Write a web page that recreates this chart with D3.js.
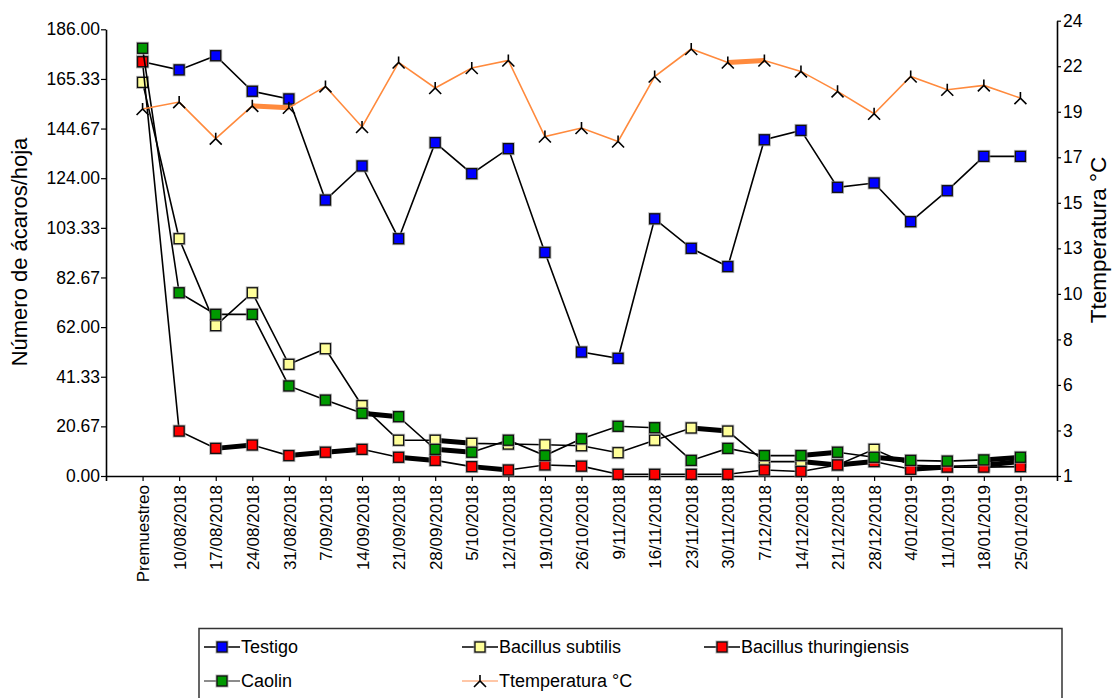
<!DOCTYPE html>
<html>
<head>
<meta charset="utf-8">
<script src="https://cdn.jsdelivr.net/npm/d3@7/dist/d3.min.js"></script>
<style>
  html, body { margin: 0; padding: 0; background: #fff; }
  svg { display: block; font-family: "Liberation Sans", Arial, sans-serif; }
  .narrow { font-family: "Liberation Sans Narrow", "Arial Narrow", "Liberation Sans", sans-serif; }
</style>
</head>
<body>
<svg id="chart" width="1114" height="698"></svg>
<script>
// ---- DATA ----
const categories = ["Premuestreo","10/08/2018","17/08/2018","24/08/2018","31/08/2018","7/09/2018","14/09/2018","21/09/2018","28/09/2018","5/10/2018","12/10/2018","19/10/2018","26/10/2018","9/11/2018","16/11/2018","23/11/2018","30/11/2018","7/12/2018","14/12/2018","21/12/2018","28/12/2018","4/01/2019","11/01/2019","18/01/2019","25/01/2019"];

const testigo       = [172.5,169.1,175.0,160.2,157.0,114.9,129.1,98.8,138.8,125.9,136.3,93.1,51.6,49.0,107.1,94.8,87.2,140.0,143.9,120.2,122.0,105.9,118.8,133.1,133.1];
const subtilis      = [163.9,98.8,62.6,76.3,46.5,53.0,29.3,14.9,14.9,13.6,13.3,13.0,12.6,9.7,14.9,20.0,18.7,6.0,6.0,4.6,11.1,4.5,4.0,4.5,6.0];
const thuringiensis = [172.5,18.7,11.5,12.9,8.5,9.9,11.1,7.8,6.5,3.9,2.5,4.6,4.1,0.7,0.7,0.7,0.7,2.5,1.9,4.6,6.0,2.8,3.7,3.7,3.9];
const caolin        = [178.1,76.3,67.3,67.3,37.5,31.6,26.1,24.7,11.1,9.9,14.9,8.5,15.5,20.7,20.1,6.5,11.5,8.5,8.5,9.9,7.8,6.5,6.2,6.7,7.8];
const temperatura   = [19.54,19.89,18.04,19.70,19.60,20.68,18.63,21.89,20.60,21.61,21.99,18.15,18.58,17.90,21.18,22.57,21.89,21.99,21.44,20.43,19.30,21.18,20.51,20.73,20.09];

const leftTicks = [0, 20.67, 41.33, 62.00, 82.67, 103.33, 124.00, 144.67, 165.33, 186.00];
const rightTickValues = [1, 3.3, 5.6, 7.9, 10.2, 12.5, 14.8, 17.1, 19.4, 21.7, 24];
const rightTickLabels = ["1","3","6","8","10","13","15","17","19","22","24"];

const seriesNames = ["Testigo","Bacillus subtilis","Bacillus thuringiensis","Caolin","Ttemperatura °C"];
const seriesColors = ["#0000ff","#ffff99","#ff0000","#009900","#ff8a3d"];

// ---- CHART ----
const svg = d3.select("#chart");
const x = d3.scalePoint().domain(categories).range([106, 1057]).padding(1);
const yL = d3.scaleLinear().domain([0, 186]).range([476, 29.3]);
const yR = d3.scaleLinear().domain([1, 24]).range([476, 20.7]);

// axes
const gx = svg.append("g").attr("transform", "translate(0,476)")
  .call(d3.axisBottom(x).tickSize(5).tickSizeOuter(5));
gx.selectAll("text")
  .attr("transform", "rotate(-90)")
  .attr("x", -9).attr("y", 0).attr("dy", "0.36em")
  .attr("text-anchor", "end")
  .style("font-size", "17px").attr("fill", "#000");

const gl = svg.append("g").attr("transform", "translate(106,0)")
  .call(d3.axisLeft(yL).tickValues(leftTicks).tickFormat(d3.format(".2f")).tickSize(5).tickSizeOuter(0).tickPadding(1));
gl.selectAll("text").style("font-size", "17.5px").attr("fill", "#000");

const gr = svg.append("g").attr("transform", "translate(1057,0)")
  .call(d3.axisRight(yR).tickValues(rightTickValues).tickFormat((d, i) => rightTickLabels[i]).tickSize(4).tickSizeOuter(0).tickPadding(2));
gr.selectAll("text").style("font-size", "17.5px").attr("fill", "#000");

svg.selectAll(".domain").attr("stroke", "#000").attr("stroke-width", 1.6);
svg.selectAll(".tick line").attr("stroke", "#000").attr("stroke-width", 1.2);

// axis titles
svg.append("text").attr("transform", "translate(27,252) rotate(-90)")
  .attr("text-anchor", "middle").style("font-size", "22px").text("Número de ácaros/hoja");
svg.append("text").attr("transform", "translate(1106,240) rotate(-90)")
  .attr("text-anchor", "middle").style("font-size", "22.5px").text("Ttemperatura °C");

// lines with thick near-horizontal segments (as in reference rendering)
function drawSeries(values, yScale, lineColor, thickColor) {
  const g = svg.append("g");
  const pts = values.map((v, i) => [x(categories[i]), yScale(v)]);
  g.append("path").attr("d", d3.line()(pts)).attr("fill", "none")
    .attr("stroke", lineColor).attr("stroke-width", 1.6);
  for (let i = 0; i < pts.length - 1; i++) {
    const dy = Math.abs(pts[i + 1][1] - pts[i][1]);
    if (dy >= 1.8 && dy <= 4.2) {
      g.append("line").attr("x1", pts[i][0]).attr("y1", pts[i][1])
        .attr("x2", pts[i + 1][0]).attr("y2", pts[i + 1][1])
        .attr("stroke", thickColor).attr("stroke-width", 5);
    }
  }
  return { g, pts };
}

function squares(g, pts, fill) {
  g.selectAll(".sh").data(pts).join("rect")
    .attr("x", d => d[0] - 6.5).attr("y", d => d[1] - 6.5)
    .attr("width", 13).attr("height", 13).attr("fill", "#9a9a9a").attr("opacity", 0.7);
  g.selectAll(".sq").data(pts).join("rect")
    .attr("x", d => d[0] - 5).attr("y", d => d[1] - 5)
    .attr("width", 10).attr("height", 10)
    .attr("fill", fill).attr("stroke", "#111").attr("stroke-width", 1.3);
}

const tri = s => `M0,${-s}L0,0M${-s},${s}L0,0L${s},${s}`;

const sT = drawSeries(testigo, yL, "#000", "#000");
squares(sT.g, sT.pts, seriesColors[0]);
const sB = drawSeries(subtilis, yL, "#000", "#000");
squares(sB.g, sB.pts, seriesColors[1]);
const sR = drawSeries(thuringiensis, yL, "#000", "#000");
squares(sR.g, sR.pts, seriesColors[2]);
const sC = drawSeries(caolin, yL, "#000", "#000");
squares(sC.g, sC.pts, seriesColors[3]);
const sTemp = drawSeries(temperatura, yR, seriesColors[4], seriesColors[4]);
sTemp.g.selectAll(".mk").data(sTemp.pts).join("path")
  .attr("transform", d => `translate(${d[0]},${d[1]})`)
  .attr("d", tri(6)).attr("fill", "none").attr("stroke", "#000").attr("stroke-width", 1.6);

// legend
const lg = svg.append("g");
lg.append("path").attr("d", "M199,700V628.5H1062V700").attr("fill", "none")
  .attr("stroke", "#333").attr("stroke-width", 1.5);
const legendPos = [[222, 647], [480, 647], [722, 647], [222, 681], [480, 681]];
const legendLine = ["#000", "#000", "#000", "#666", "#ffb48a"];
seriesNames.forEach((name, i) => {
  const [cx, cy] = legendPos[i];
  lg.append("line").attr("x1", cx - 18).attr("x2", cx + 18).attr("y1", cy).attr("y2", cy)
    .attr("stroke", legendLine[i]).attr("stroke-width", 1.6);
  if (i < 4) {
    squares(lg.append("g"), [[cx, cy]], seriesColors[i]);
  } else {
    lg.append("path").attr("transform", `translate(${cx},${cy})`).attr("d", tri(6))
      .attr("fill", "none").attr("stroke", "#000").attr("stroke-width", 1.6);
  }
  lg.append("text").attr("class", "narrow").attr("x", cx + 19).attr("y", cy).attr("dy", "0.36em")
    .style("font-size", "18px").text(name);
});
</script>
</body>
</html>
